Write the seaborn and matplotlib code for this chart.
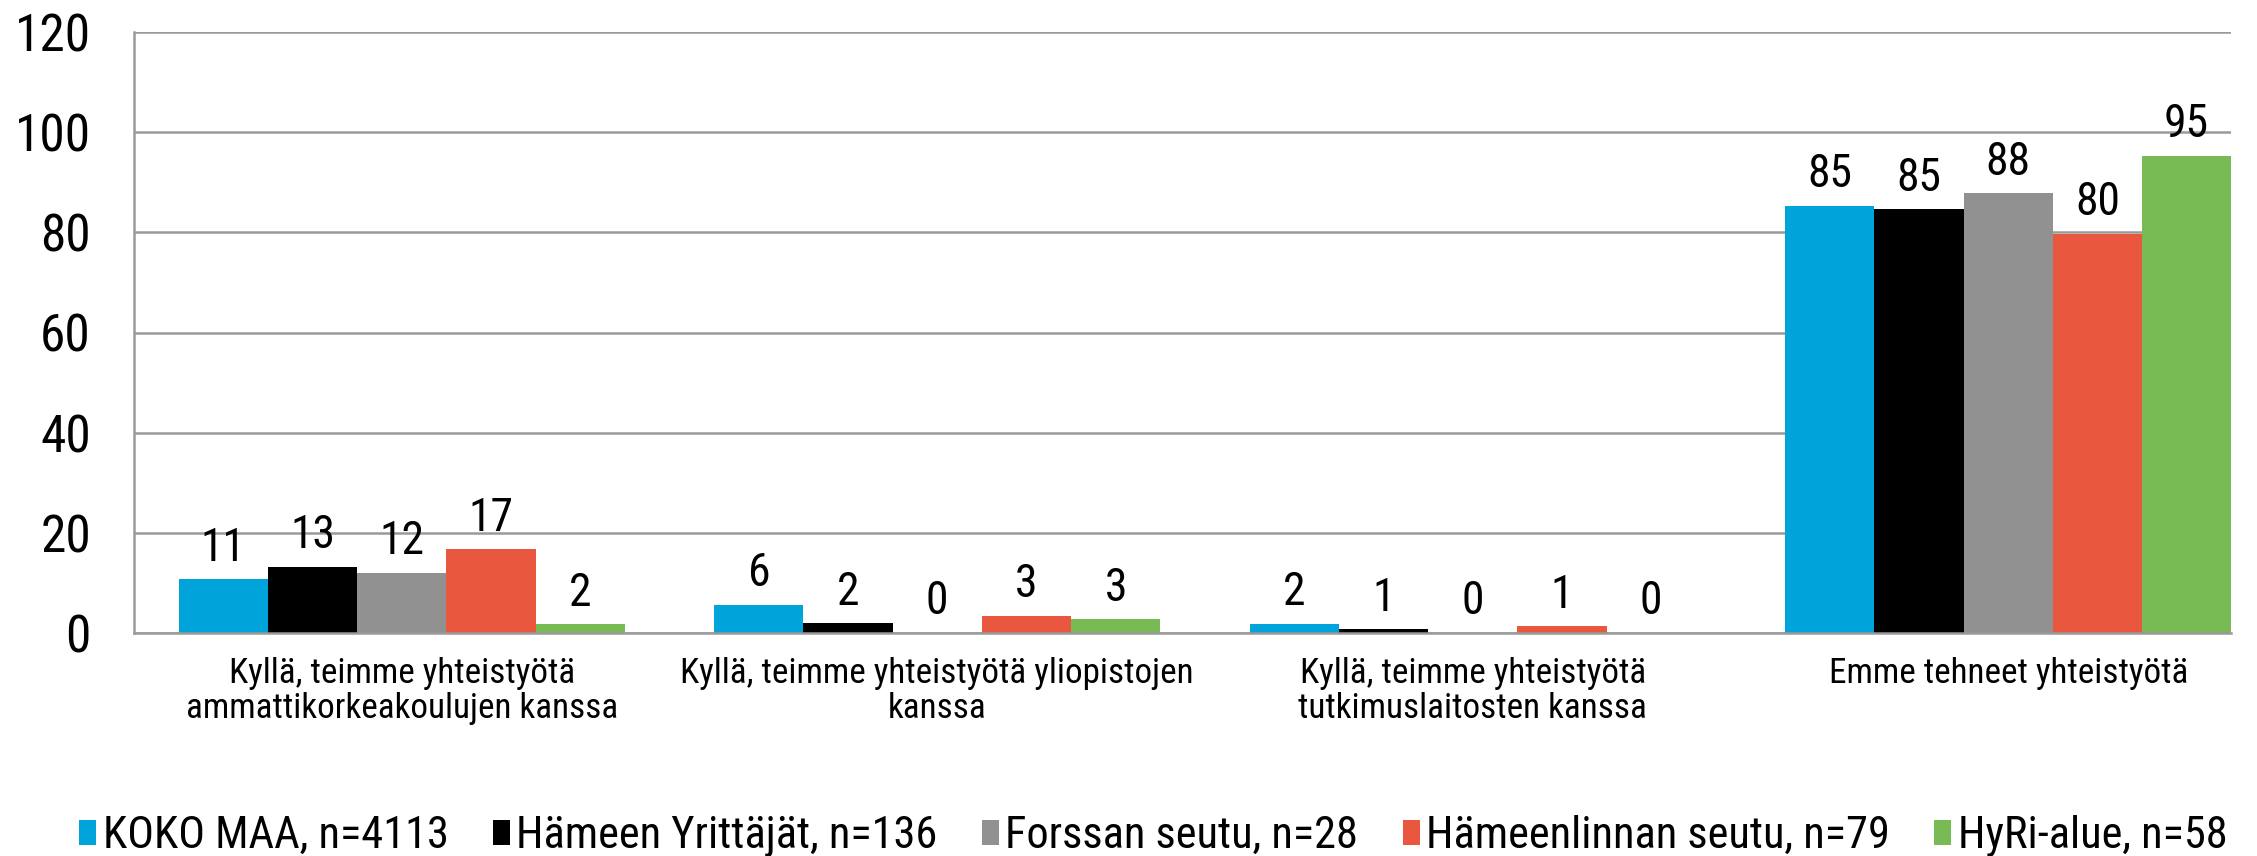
import numpy as np
import pandas as pd
import matplotlib
matplotlib.use("Agg")
import matplotlib.pyplot as plt
from matplotlib import font_manager
import seaborn as sns

# kategoriat ja sarjat
kategoriat = [
    "Kyllä, teimme yhteistyötä\nammattikorkeakoulujen kanssa",
    "Kyllä, teimme yhteistyötä yliopistojen\nkanssa",
    "Kyllä, teimme yhteistyötä\ntutkimuslaitosten kanssa",
    "Emme tehneet yhteistyötä",
]
sarjat = [
    "KOKO MAA, n=4113",
    "Hämeen Yrittäjät, n=136",
    "Forssan seutu, n=28",
    "Hämeenlinnan seutu, n=79",
    "HyRi-alue, n=58",
]
koko_maa = [10.7, 5.6, 1.8, 85.3]
hameen_yrittajat = [13.2, 1.9, 0.7, 84.6]
forssa = [12.0, 0.0, 0.0, 87.8]
hameenlinna = [16.7, 3.4, 1.3, 79.7]
hyri = [1.7, 2.7, 0.0, 95.3]
varit = ["#00A3DA", "#000000", "#919191", "#E9573F", "#78BB54"]

arvot = [koko_maa, hameen_yrittajat, forssa, hameenlinna, hyri]
df = pd.DataFrame({
    "kategoria": np.tile(kategoriat, len(sarjat)),
    "sarja": np.repeat(sarjat, len(kategoriat)),
    "arvo": np.concatenate(arvot),
})

sns.set_theme(style="white")

# alkuperäisen teksti on kapeaa -> kapea fontti jos sellainen on asennettu
nimet = {f.name for f in font_manager.fontManager.ttflist}
ehdokkaat = ["Liberation Sans Narrow", "Arial Narrow", "Roboto Condensed",
             "Archivo Narrow", "PT Sans Narrow"]
kapea = next((n for n in ehdokkaat if n in nimet), "Liberation Sans")
plt.rcParams["font.family"] = [kapea, "Liberation Sans", "DejaVu Sans"]
plt.rcParams["text.color"] = "black"
plt.rcParams["xtick.color"] = "black"
plt.rcParams["ytick.color"] = "black"

fig = plt.figure(figsize=(22.57, 8.56), dpi=100)
r = fig.canvas.get_renderer()


def koko(teksti, leveys_px):
    # fonttikoko jolla teksti on annetun levyinen
    t = fig.text(0, 0, teksti, fontsize=20)
    w = t.get_window_extent(r).width
    t.remove()
    return 20 * leveys_px / w


fs_y = koko("100", 76)
fs_lab = koko("85", 45)
fs_x = koko("ammattikorkeakoulujen kanssa", 432)
fs_leg = koko("KOKO MAA, n=4113", 345)

# ryhmien väli n. 535 px, oikea reuna leikattu viimeisen palkin kohdalta
x0, x1 = -0.5, 3.4165
leveys_px = 535.5 * (x1 - x0)
ax = fig.add_axes([134 / 2257, 1 - 633 / 856, leveys_px / 2257, (633 - 32) / 856])

sns.barplot(data=df, x="kategoria", y="arvo", hue="sarja", order=kategoriat,
            hue_order=sarjat, palette=varit, width=0.833, saturation=1,
            errorbar=None, ax=ax, legend=True, linewidth=0)

for cont in ax.containers:
    ax.bar_label(cont, fmt="%.0f", padding=7, fontsize=fs_lab, color="black")

ax.set_ylim(0, 120)
ax.set_yticks(range(0, 121, 20))
ax.set_xlim(x0, x1)
ax.yaxis.grid(True, color="#9A9A9A", linewidth=1.8)
ax.set_axisbelow(True)
ax.set_xlabel("")
ax.set_ylabel("")
ax.tick_params(axis="y", labelsize=fs_y, length=0, pad=31)
ax.tick_params(axis="x", labelsize=fs_x, length=0, pad=17)
for t in ax.get_xticklabels():
    t.set_linespacing(1.1)
for s in ["top", "right"]:
    ax.spines[s].set_visible(False)
for s in ["left", "bottom"]:
    ax.spines[s].set_color("#9A9A9A")
    ax.spines[s].set_linewidth(1.8)

handles, labels = ax.get_legend_handles_labels()
ax.get_legend().remove()
fig.legend(handles, labels, loc="center", bbox_to_anchor=(0.511, 1 - 836 / 856),
           ncol=5, frameon=False, fontsize=fs_leg, handlelength=0.38,
           handleheight=0.5, handletextpad=0.15, columnspacing=1.0,
           borderaxespad=0)

fig.savefig("out.png", dpi=100)
